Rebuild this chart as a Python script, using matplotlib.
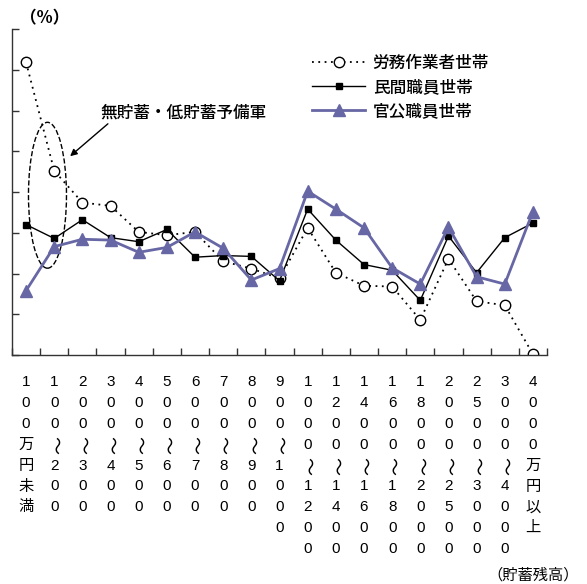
import matplotlib
matplotlib.use("Agg")
import matplotlib.pyplot as plt
from matplotlib.patches import Ellipse
from matplotlib.transforms import blended_transform_factory

plt.rcParams["font.family"] = ["Liberation Sans", "Noto Sans CJK JP", "DejaVu Sans"]

# categories (貯蓄残高, 万円)
categories = [
    "100万円未満", "100〜200", "200〜300", "300〜400", "400〜500",
    "500〜600", "600〜700", "700〜800", "800〜900", "900〜1000",
    "1000〜1200", "1200〜1400", "1400〜1600", "1600〜1800", "1800〜2000",
    "2000〜2500", "2500〜3000", "3000〜4000", "4000万円以上",
]

# series values (%)
roumu = [35.9, 22.6, 18.7, 18.3, 15.1, 14.7, 15.1, 11.5, 10.6, 9.4,
         15.6, 10.1, 8.5, 8.4, 4.3, 11.8, 6.6, 6.1, 0.1]
minkan = [16.0, 14.3, 16.6, 14.4, 13.9, 15.4, 12.0, 12.2, 12.1, 9.1,
          17.9, 14.1, 11.1, 10.4, 6.7, 14.6, 10.1, 14.4, 16.2]
kankou = [7.9, 13.3, 14.2, 14.1, 12.6, 13.2, 15.1, 13.1, 9.2, 10.6,
          20.1, 17.9, 15.6, 10.7, 8.7, 15.7, 9.6, 8.7, 17.6]

series_names = ["労務作業者世帯", "民間職員世帯", "官公職員世帯"]

W, H = 587, 584
fig = plt.figure(figsize=(W / 100, H / 100), dpi=100)
ax = fig.add_axes([12 / W, 1 - 355 / H, 535 / W, 326 / H])

x = [i + 0.5 for i in range(len(categories))]
purple = "#6767a5"

ax.plot(x, roumu, linestyle=(0, (1, 2.5)), color="black", lw=1.3,
        marker="o", markersize=7.5, markerfacecolor="white",
        markeredgecolor="black", markeredgewidth=1.0, label=series_names[0])
ax.plot(x, minkan, color="black", lw=1.0, marker="s", markersize=4.5,
        label=series_names[1])
ax.plot(x, kankou, color=purple, lw=2.0, marker="^", markersize=9,
        label=series_names[2])

ax.set_xlim(0, len(categories))
ax.set_ylim(0, 40)
ax.set_xticks(range(len(categories) + 1))
ax.set_yticks(range(0, 41, 5))
ax.set_xticklabels([])
ax.set_yticklabels([])
ax.tick_params(axis="both", direction="in", length=5, width=1, color="#333333")
for s in ["top", "right"]:
    ax.spines[s].set_visible(False)
for s in ["left", "bottom"]:
    ax.spines[s].set_color("#333333")
    ax.spines[s].set_linewidth(1.0)

leg = ax.legend(loc="upper left", bbox_to_anchor=(0.545, 0.945), frameon=False,
                handlelength=3.2, handletextpad=0.45, labelspacing=0.5,
                borderpad=0, prop={"size": 12, "weight": "medium"})

# vertical x labels, one character per row
tr = blended_transform_factory(ax.transData, fig.transFigure)
for xi, label in zip(x, categories):
    for r, ch in enumerate(label):
        yy = 1 - (382 + 20.9 * r) / H
        if ch == "〜":
            ax.text(xi, yy, ch, transform=tr, ha="center", va="center",
                    fontsize=13, rotation=-90, family="Noto Sans CJK JP")
        else:
            ax.text(xi, yy, ch, transform=tr, ha="center", va="center",
                    fontsize=11)

fig.text(20 / W, 1 - 18 / H, "（%）", fontsize=12, ha="left", va="center",
         fontweight="bold", family=["Noto Sans CJK JP"])
fig.text(579 / W, 1 - 575 / H, "（貯蓄残高）", fontsize=11, ha="right",
         va="center", family=["Noto Sans CJK JP"])

# annotation: dashed ellipse with arrow
ax.add_patch(Ellipse((1.26, 19.6), 1.35, 17.9, fill=False, ls="--",
                     lw=1.0, color="black"))
fig.text(100 / W, 1 - 113 / H, "無貯蓄・低貯蓄予備軍", fontsize=12,
         ha="left", va="center", weight="medium", family=["Noto Sans CJK JP"])
ax.annotate("", xy=(68, H - 158), xycoords="figure pixels",
            xytext=(110, H - 122), textcoords="figure pixels",
            arrowprops=dict(arrowstyle="-|>", color="black", lw=1.0,
                            mutation_scale=10))

fig.savefig("out.png", dpi=100)
